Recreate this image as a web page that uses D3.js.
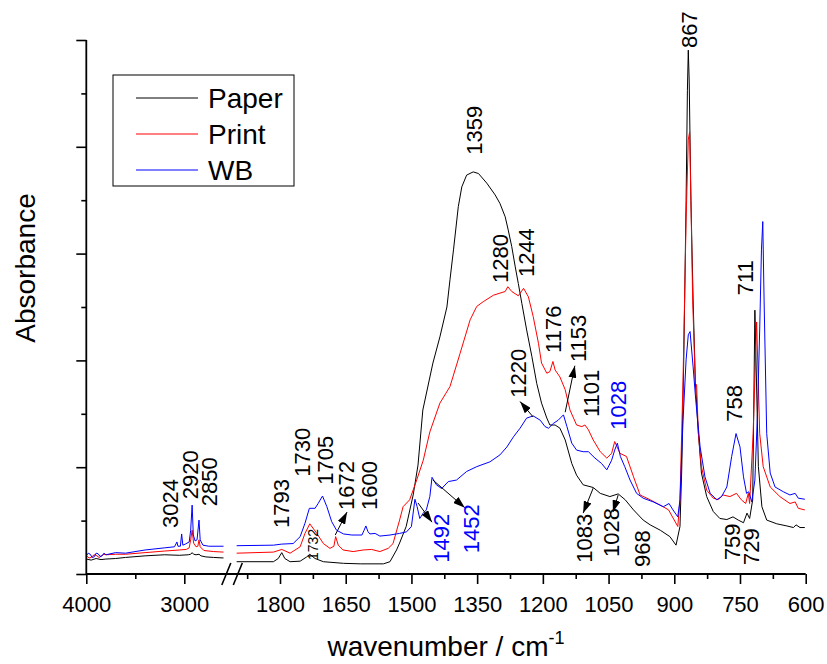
<!DOCTYPE html>
<html>
<head>
<meta charset="utf-8">
<script src="https://cdn.jsdelivr.net/npm/d3@7"></script>
<style>
  html, body { margin: 0; padding: 0; background: #fff; }
  svg { display: block; font-family: "Liberation Sans", Arial, sans-serif; }
</style>
</head>
<body>
<svg id="chart" width="827" height="664"></svg>
<script>
// ---------- data ----------
// wavenumber (cm-1), absorbance (arbitrary units, 0..1 of axis height)
const seriesNames = ["Paper", "Print", "WB"];
const seriesColors = ["#000000", "#ff0000", "#0000ff"];

const paperHigh = [[4000,0.028],[3950,0.026],[3900,0.029],[3850,0.027],[3800,0.028],[3700,0.029],[3600,0.031],[3400,0.034],[3200,0.036],[3050,0.035],[2960,0.036],[2935,0.037],[2920,0.040],[2905,0.037],[2880,0.036],[2850,0.037],[2830,0.034],[2780,0.032],[2700,0.031],[2600,0.030]];
const printHigh = [[4000,0.034],[3970,0.030],[3950,0.031],[3920,0.036],[3900,0.035],[3870,0.031],[3850,0.033],[3820,0.037],[3800,0.036],[3700,0.037],[3600,0.037],[3400,0.040],[3200,0.043],[3050,0.045],[2980,0.046],[2950,0.049],[2935,0.064],[2920,0.082],[2905,0.058],[2880,0.051],[2862,0.052],[2850,0.064],[2838,0.051],[2800,0.044],[2700,0.042],[2600,0.041]];
const wbHigh = [[4000,0.034],[3980,0.039],[3960,0.037],[3940,0.031],[3920,0.032],[3900,0.039],[3880,0.038],[3860,0.033],[3840,0.034],[3820,0.039],[3800,0.036],[3700,0.040],[3600,0.039],[3400,0.045],[3200,0.049],[3100,0.051],[3075,0.060],[3065,0.052],[3040,0.052],[3027,0.075],[3015,0.054],[2990,0.056],[2950,0.060],[2935,0.082],[2920,0.129],[2908,0.073],[2890,0.062],[2870,0.064],[2850,0.101],[2838,0.064],[2810,0.054],[2750,0.052],[2600,0.052]];

const paperLow = [[1899,0.023],[1815,0.023],[1804,0.029],[1796,0.040],[1789,0.029],[1777,0.023],[1754,0.024],[1739,0.032],[1732,0.037],[1720,0.029],[1701,0.023],[1655,0.020],[1617,0.019],[1564,0.019],[1549,0.023],[1534,0.045],[1527,0.058],[1512,0.089],[1496,0.148],[1485,0.204],[1474,0.307],[1451,0.395],[1435,0.444],[1419,0.500],[1412,0.551],[1404,0.607],[1393,0.688],[1385,0.725],[1374,0.747],[1359,0.753],[1347,0.750],[1328,0.732],[1309,0.710],[1298,0.694],[1286,0.669],[1279,0.644],[1271,0.613],[1263,0.575],[1256,0.544],[1248,0.507],[1237,0.457],[1225,0.407],[1214,0.357],[1203,0.320],[1191,0.292],[1184,0.279],[1172,0.279],[1161,0.273],[1149,0.251],[1134,0.207],[1123,0.185],[1108,0.167],[1085,0.162],[1069,0.151],[1047,0.145],[1028,0.150],[1012,0.139],[993,0.120],[971,0.101],[955,0.092],[932,0.082],[910,0.070],[896,0.054],[887,0.089],[883,0.195],[878,0.419],[873,0.700],[870,0.906],[868,0.981],[866,0.925],[862,0.700],[857,0.513],[852,0.363],[848,0.307],[847,0.288],[845,0.264],[838,0.189],[826,0.145],[811,0.117],[796,0.104],[780,0.102],[766,0.107],[754,0.101],[742,0.096],[734,0.114],[728,0.104],[721,0.139],[716,0.494],[708,0.201],[700,0.126],[689,0.101],[666,0.094],[643,0.090],[628,0.087],[622,0.092],[613,0.087],[602,0.087]];
const printLow = [[1899,0.039],[1815,0.041],[1796,0.046],[1777,0.039],[1754,0.051],[1743,0.076],[1732,0.094],[1716,0.076],[1701,0.057],[1686,0.048],[1677,0.052],[1673,0.070],[1667,0.054],[1656,0.045],[1633,0.042],[1610,0.045],[1591,0.046],[1572,0.042],[1553,0.048],[1542,0.057],[1527,0.101],[1519,0.126],[1504,0.139],[1488,0.176],[1473,0.213],[1458,0.266],[1435,0.320],[1412,0.351],[1389,0.413],[1366,0.476],[1351,0.501],[1336,0.510],[1313,0.522],[1298,0.526],[1286,0.529],[1280,0.538],[1271,0.529],[1256,0.521],[1244,0.535],[1233,0.519],[1222,0.482],[1210,0.432],[1203,0.395],[1191,0.376],[1184,0.379],[1177,0.398],[1172,0.382],[1161,0.369],[1149,0.345],[1138,0.307],[1123,0.279],[1111,0.276],[1104,0.279],[1096,0.270],[1085,0.251],[1069,0.229],[1054,0.217],[1043,0.226],[1036,0.248],[1024,0.226],[1009,0.220],[993,0.182],[978,0.148],[955,0.139],[932,0.129],[913,0.120],[892,0.089],[887,0.139],[880,0.363],[873,0.663],[868,0.813],[865,0.828],[862,0.700],[858,0.513],[852,0.357],[849,0.354],[845,0.263],[838,0.201],[826,0.157],[811,0.142],[800,0.139],[789,0.148],[773,0.145],[758,0.151],[747,0.139],[737,0.132],[731,0.151],[728,0.132],[720,0.263],[712,0.472],[705,0.263],[697,0.201],[681,0.163],[659,0.145],[636,0.132],[624,0.135],[617,0.123],[602,0.120]];
const wbLow = [[1899,0.053],[1815,0.054],[1796,0.056],[1770,0.057],[1754,0.070],[1743,0.095],[1733,0.123],[1720,0.123],[1713,0.132],[1703,0.146],[1693,0.126],[1682,0.098],[1671,0.082],[1655,0.075],[1636,0.073],[1613,0.073],[1608,0.082],[1604,0.090],[1599,0.079],[1595,0.075],[1583,0.076],[1572,0.071],[1549,0.073],[1527,0.076],[1511,0.079],[1500,0.089],[1492,0.140],[1487,0.126],[1481,0.104],[1473,0.114],[1466,0.120],[1458,0.145],[1453,0.181],[1443,0.167],[1431,0.160],[1416,0.173],[1397,0.176],[1374,0.192],[1351,0.201],[1321,0.210],[1298,0.223],[1282,0.238],[1267,0.257],[1252,0.273],[1237,0.292],[1222,0.296],[1206,0.288],[1195,0.276],[1187,0.273],[1176,0.282],[1165,0.288],[1153,0.298],[1145,0.276],[1134,0.245],[1123,0.232],[1108,0.229],[1096,0.229],[1081,0.217],[1066,0.207],[1054,0.195],[1043,0.213],[1036,0.232],[1030,0.245],[1023,0.220],[1013,0.201],[1001,0.176],[986,0.151],[971,0.142],[948,0.135],[925,0.126],[912,0.132],[903,0.120],[892,0.107],[887,0.139],[880,0.288],[873,0.401],[868,0.448],[864,0.454],[857,0.388],[851,0.326],[841,0.238],[830,0.182],[818,0.151],[803,0.139],[792,0.145],[780,0.163],[769,0.220],[759,0.263],[750,0.238],[742,0.182],[735,0.151],[730,0.154],[723,0.135],[716,0.176],[710,0.301],[705,0.457],[701,0.607],[698,0.660],[695,0.513],[689,0.263],[681,0.189],[670,0.163],[651,0.154],[636,0.148],[624,0.151],[617,0.142],[602,0.140]];

// axis ticks
const highMajorTicks = [4000, 3000];
const highMinorTicks = [3500];
const lowMajorTicks = [1800, 1650, 1500, 1350, 1200, 1050, 900, 750, 600];
const lowMinorTicks = [1875, 1725, 1575, 1425, 1275, 1125, 975, 825, 675];
const yMajorTicks = [0, 0.2, 0.4, 0.6, 0.8, 1.0];
const yMinorTicks = [0.1, 0.3, 0.5, 0.7, 0.9];

// peak labels: text, segment, wavenumber, absorbance at label start, colour, size
const peakLabels = [
  ["3024","high",3146,0.086,"#000",22],
  ["2920","high",2942,0.140,"#000",22],
  ["2850","high",2743,0.127,"#000",22],
  ["1793","low",1798,0.086,"#000",22],
  ["1730","low",1750,0.182,"#000",22],
  ["1705","low",1697,0.167,"#000",22],
  ["1672","low",1649,0.120,"#000",22],
  ["1600","low",1597,0.120,"#000",22],
  ["1732","low",1725,0.026,"#000",14],
  ["1359","low",1357,0.785,"#000",22],
  ["1280","low",1298,0.545,"#000",22],
  ["1244","low",1238,0.556,"#000",22],
  ["1176","low",1177,0.414,"#000",22],
  ["1153","low",1120,0.397,"#000",22],
  ["1220","low",1257,0.330,"#000",22],
  ["1101","low",1090,0.294,"#000",22],
  ["1028","low",1028,0.270,"#0000ff",22],
  ["1492","low",1432,0.021,"#0000ff",22],
  ["1452","low",1364,0.039,"#0000ff",22],
  ["1083","low",1106,0.021,"#000",22],
  ["1028","low",1044,0.032,"#000",22],
  ["968","low",974,0.013,"#000",22],
  ["758","low",764,0.285,"#000",22],
  ["759","low",768,0.026,"#000",22],
  ["729","low",725,0.017,"#000",22],
  ["867","low",866,0.985,"#000",22],
  ["711","low",738,0.522,"#000",22]
];

// arrows: from (wn, abs) to (wn, abs)
const arrows = [
  [1674,0.073,1647,0.116],
  [1222,0.294,1252,0.323],
  [1149,0.303,1127,0.390],
  [1485,0.133,1453,0.097],
  [1451,0.176,1378,0.124],
  [1085,0.161,1108,0.114],
  [1028,0.148,1040,0.116]
];

// ---------- scales ----------
const svg = d3.select("#chart");
const xHigh = d3.scaleLinear().domain([4000, 2550]).range([86.3, 228.4]);
const xLow = d3.scaleLinear().domain([1900, 600]).range([236.2, 805.7]);
const y = d3.scaleLinear().domain([0, 1]).range([574, 40]);

// ---------- curves ----------
const lineHigh = d3.line().x(d => xHigh(d[0])).y(d => y(d[1]));
const lineLow = d3.line().x(d => xLow(d[0])).y(d => y(d[1]));
const highSets = [paperHigh, printHigh, wbHigh];
const lowSets = [paperLow, printLow, wbLow];
const gCurves = svg.append("g");
[0,1,2].forEach(i => {
  gCurves.append("path").attr("d", lineHigh(highSets[i])).attr("fill","none")
    .attr("stroke", seriesColors[i]).attr("stroke-width", 1).attr("stroke-linejoin","round");
  gCurves.append("path").attr("d", lineLow(lowSets[i])).attr("fill","none")
    .attr("stroke", seriesColors[i]).attr("stroke-width", 1).attr("stroke-linejoin","round");
});

// ---------- axes ----------
function styleAxis(g) {
  g.select(".domain").remove();
  g.selectAll(".tick line").attr("stroke","#000").attr("stroke-width",1.6);
  g.selectAll(".tick text").attr("fill","#000").attr("font-size",22)
    .attr("font-family",'"Liberation Sans", Arial, sans-serif');
}
const y0 = y(0);
svg.append("g").attr("transform",`translate(0,${y0})`)
  .call(d3.axisBottom(xHigh).tickValues(highMajorTicks).tickSize(10).tickPadding(12).tickFormat(d3.format("d")))
  .call(styleAxis);
svg.append("g").attr("transform",`translate(0,${y0})`)
  .call(d3.axisBottom(xHigh).tickValues(highMinorTicks).tickSize(5).tickFormat(""))
  .call(styleAxis);
svg.append("g").attr("transform",`translate(0,${y0})`)
  .call(d3.axisBottom(xLow).tickValues(lowMajorTicks).tickSize(10).tickPadding(12).tickFormat(d3.format("d")))
  .call(styleAxis);
svg.append("g").attr("transform",`translate(0,${y0})`)
  .call(d3.axisBottom(xLow).tickValues(lowMinorTicks).tickSize(5).tickFormat(""))
  .call(styleAxis);

const xAxisX = xHigh(4000);
svg.append("g").attr("transform",`translate(${xAxisX},0)`)
  .call(d3.axisLeft(y).tickValues(yMajorTicks).tickSize(10).tickFormat(""))
  .call(styleAxis);
svg.append("g").attr("transform",`translate(${xAxisX},0)`)
  .call(d3.axisLeft(y).tickValues(yMinorTicks).tickSize(5).tickFormat(""))
  .call(styleAxis);

// axis lines
svg.append("line").attr("x1", xAxisX).attr("x2", xLow(600)).attr("y1", y0).attr("y2", y0)
  .attr("stroke","#000").attr("stroke-width",1.8);
svg.append("line").attr("x1", xAxisX).attr("x2", xAxisX).attr("y1", y(1)).attr("y2", y0)
  .attr("stroke","#000").attr("stroke-width",1.8);

// axis break slashes
const breakMid = (xHigh.range()[1] + xLow.range()[0]) / 2;
[-6, 5.5].forEach(off => {
  svg.append("line")
    .attr("x1", breakMid + off - 4.5).attr("y1", y0 + 11)
    .attr("x2", breakMid + off + 4.5).attr("y2", y0 - 11)
    .attr("stroke","#000").attr("stroke-width",1.6);
});

// axis titles
const xTitle = svg.append("text").attr("x", (xAxisX + xLow(600)) / 2).attr("y", 656)
  .attr("text-anchor","middle").attr("font-size",28).attr("fill","#000");
xTitle.append("tspan").text("wavenumber / cm");
xTitle.append("tspan").attr("font-size",18).attr("dy",-12).text("-1");

svg.append("text").attr("transform","translate(25,268) rotate(-90)")
  .attr("text-anchor","middle").attr("dy","0.35em").attr("font-size",28).attr("fill","#000")
  .text("Absorbance");

// ---------- annotations ----------
svg.append("defs").append("marker").attr("id","ah")
  .attr("viewBox","0 0 12 8").attr("refX",12).attr("refY",4)
  .attr("markerWidth",12).attr("markerHeight",8).attr("markerUnits","userSpaceOnUse")
  .attr("orient","auto")
  .append("path").attr("d","M0,0 L12,4 L0,8 Z").attr("fill","#000");

arrows.forEach(a => {
  svg.append("line")
    .attr("x1", xLow(a[0])).attr("y1", y(a[1]))
    .attr("x2", xLow(a[2])).attr("y2", y(a[3]))
    .attr("stroke","#000").attr("stroke-width",1)
    .attr("marker-end","url(#ah)");
});

peakLabels.forEach(p => {
  const sx = p[1] === "high" ? xHigh(p[2]) : xLow(p[2]);
  svg.append("text")
    .attr("transform", `translate(${sx},${y(p[3])}) rotate(-90)`)
    .attr("dy","0.35em").attr("text-anchor","start")
    .attr("font-size", p[5]).attr("fill", p[4])
    .text(p[0]);
});

// ---------- legend ----------
const lg = svg.append("g");
lg.append("rect").attr("x",113).attr("y",75).attr("width",181).attr("height",111)
  .attr("fill","#fff").attr("stroke","#000").attr("stroke-width",1);
seriesNames.forEach((n, i) => {
  const ly = 98 + i * 36;
  lg.append("line").attr("x1",136).attr("x2",198).attr("y1",ly).attr("y2",ly)
    .attr("stroke", seriesColors[i]).attr("stroke-width",1);
  lg.append("text").attr("x",208).attr("y",ly).attr("dy","0.36em")
    .attr("font-size",28).attr("fill","#000").text(n);
});
</script>
</body>
</html>
